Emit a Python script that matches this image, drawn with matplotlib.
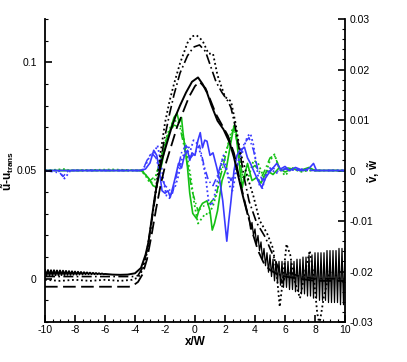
import numpy as np
import matplotlib
matplotlib.use("Agg")
import matplotlib.pyplot as plt
from matplotlib.ticker import MultipleLocator, FormatStrFormatter

plt.rcParams['font.family'] = ['Liberation Sans', 'DejaVu Sans']
plt.rcParams['mathtext.fontset'] = 'custom'
plt.rcParams['mathtext.rm'] = 'Liberation Sans'
plt.rcParams['mathtext.bf'] = 'Liberation Sans:bold'
plt.rcParams['axes.unicode_minus'] = False

# ---- black curves (left axis, u - u_trans) ----
# solid: oscillating upstream part, smooth hump, oscillating wake
solid_osc_left = [0.0040, 0.0014, 0.0040, 0.0015, 0.0039, 0.0015, 0.0039, 0.0016,
                  0.0038, 0.0016, 0.0038, 0.0017, 0.0037, 0.0017, 0.0036, 0.0018,
                  0.0035, 0.0018, 0.0034, 0.0019, 0.0033, 0.0019, 0.0032, 0.0020,
                  0.0031, 0.0020, 0.0030, 0.0021, 0.0029, 0.0021, 0.0028, 0.0021,
                  0.0027, 0.0021, 0.0026, 0.0021, 0.0025, 0.0021, 0.0024, 0.0021,
                  0.0022]
solid_x = [-5.5, -5.0, -4.5, -4.0, -3.6, -3.3, -3.1, -2.9, -2.7, -2.5, -2.2, -1.9,
           -1.6, -1.3, -1.0, -0.6, -0.2, 0.2, 0.5, 0.8, 1.1, 1.5, 1.9, 2.3, 2.6,
           2.9, 3.2, 3.5]
solid_u = [0.0019, 0.0018, 0.0019, 0.0025, 0.005, 0.011, 0.017, 0.027, 0.037, 0.045,
           0.055, 0.062, 0.069, 0.075, 0.080, 0.086, 0.091, 0.093, 0.090, 0.086,
           0.080, 0.073, 0.069, 0.063, 0.056, 0.047, 0.038, 0.030]
solid_osc_right = [0.029, 0.023, 0.026, 0.020, 0.023, 0.016, 0.020, 0.013, 0.017,
                   0.009, 0.014, 0.006, 0.012, 0.003, 0.011, 0.001, 0.009, -0.001,
                   0.008, -0.002, 0.008, -0.003, 0.008, -0.004, 0.008, -0.004, 0.008,
                   -0.005, 0.008, -0.005, 0.008, -0.006, 0.009, -0.006, 0.009, -0.007,
                   0.010, -0.007, 0.010, -0.008, 0.011, -0.008, 0.011, -0.009, 0.012,
                   -0.009, 0.012, -0.010, 0.012, -0.010, 0.012, -0.010, 0.013, -0.011,
                   0.013, -0.011, 0.013, -0.011, 0.013, -0.011, 0.014, -0.012, 0.014,
                   -0.012, 0.014]

dashed_x = [-10, -4.4, -4.1, -3.8, -3.5, -3.2, -2.9, -2.6, -2.3, -2.0, -1.6, -1.2,
            -0.8, -0.4, 0.0, 0.3, 0.7, 1.0, 1.4, 1.8, 2.2, 2.6, 3.0, 3.4, 3.8, 4.2,
            4.6, 5.0, 5.5, 6.0, 7.0, 8.0, 10.0]
dashed_u = [-0.0037, -0.0037, -0.003, -0.0015, 0.002, 0.009, 0.020, 0.032, 0.043,
            0.052, 0.061, 0.070, 0.077, 0.084, 0.089, 0.091, 0.088, 0.083, 0.076,
            0.071, 0.066, 0.058, 0.045, 0.033, 0.022, 0.013, 0.007, 0.004, 0.002,
            0.001, 0.000, -0.001, -0.001]

dotted_x = [-10, -9, -8, -7, -6, -5, -4.2, -3.8, -3.5, -3.2, -2.9, -2.6, -2.3, -2.0,
            -1.7, -1.4, -1.0, -0.5, -0.2, 0.1, 0.5, 0.9, 1.2, 1.5, 2.0, 2.4, 2.7,
            3.0, 3.5, 3.9, 4.3, 4.8, 5.2, 5.45, 5.65, 5.85, 6.1, 6.35, 6.6, 7.0, 7.3,
            7.65, 7.9, 8.15, 8.3, 8.6, 9.0, 9.5, 10.0]
dotted_u = [-0.0005, -0.001, -0.0005, -0.001, -0.0005, -0.001, -0.0005, 0.0005,
            0.004, 0.012, 0.026, 0.042, 0.058, 0.072, 0.082, 0.090, 0.0995, 0.109,
            0.112, 0.1125, 0.110, 0.104, 0.104, 0.094, 0.084, 0.082, 0.072, 0.059,
            0.047, 0.038, 0.027, 0.021, 0.014, 0.002, -0.013, -0.001, 0.016, 0.011,
            0.0, -0.009, 0.002, 0.013, 0.002, -0.016, -0.021, -0.008, 0.004, 0.001,
            -0.002]

dashdot_x = [-10, -4.0, -3.8, -3.5, -3.2, -2.9, -2.6, -2.3, -2.0, -1.7, -1.4, -1.0,
             -0.5, -0.1, 0.3, 0.7, 1.0, 1.4, 1.8, 2.2, 2.4, 2.6, 3.0, 3.3, 3.6, 4.1,
             4.7, 5.0, 5.5, 5.8, 6.2, 7.0, 8.0, 10.0]
dashdot_u = [0.001, 0.001, 0.0015, 0.005, 0.013, 0.026, 0.040, 0.054, 0.066, 0.076,
             0.085, 0.095, 0.103, 0.107, 0.108, 0.105, 0.099, 0.091, 0.086, 0.082,
             0.079, 0.073, 0.058, 0.046, 0.036, 0.026, 0.019, 0.014, 0.006, -0.002,
             0.003, 0.001, 0.0, 0.0]

# ---- coloured curves (right axis, v and w) ----
gs_x = [-10, -3.6, -3.4, -3.1, -2.8, -2.6, -2.4, -2.2, -1.9, -1.6, -1.4, -1.2, -1.05,
        -0.9, -0.8, -0.65, -0.5, -0.35, -0.15, 0.1, 0.3, 0.5, 0.8, 1.0, 1.15, 1.3,
        1.5, 1.8, 2.1, 2.3, 2.45, 2.6, 2.75, 2.85, 3.0, 3.15, 3.3, 3.5, 3.8, 4.1,
        4.4, 4.8, 5.2, 5.6, 6.0, 6.5, 7.0, 7.6, 8.0, 10]
gs_v = [0, 0, -0.0005, -0.0015, -0.003, -0.0033, -0.001, 0.0015, 0.006, 0.0085,
        0.0105, 0.0113, 0.0095, 0.0105, 0.0075, 0.004, 0.0006, -0.0045, -0.0085,
        -0.0095, -0.0075, -0.0065, -0.006, -0.008, -0.0118, -0.0105, -0.008, -0.002,
        0.0006, 0.004, 0.0065, 0.0088, 0.0075, 0.004, 0.0, -0.0034, -0.001, 0.0014,
        -0.002, -0.0014, -0.0025, 0.0, -0.0008, 0.0005, -0.0003, 0.0004, 0.0, 0.0006,
        0.0, 0]

gd_x = [-10, -8.6, -8.4, -5.5, -3.6, -3.3, -3.0, -2.7, -2.4, -2.1, -1.8, -1.5, -1.2,
        -0.9, -0.6, -0.3, -0.05, 0.2, 0.45, 0.7, 0.9, 1.2, 1.5, 1.8, 2.1, 2.4, 2.6,
        2.8, 3.0, 3.2, 3.5, 3.9, 4.2, 4.6, 5.0, 5.3, 5.6, 6.0, 6.5, 7.0, 7.5, 10]
gd_v = [0, 0.0003, 0, 0.0002, 0, -0.001, -0.0025, -0.002, 0.001, 0.0045, 0.0075,
        0.0095, 0.010, 0.0085, 0.004, -0.001, -0.0065, -0.0105, -0.0095, -0.0085,
        -0.0088, -0.007, -0.004, 0.0015, 0.004, 0.0075, 0.0088, 0.006, 0.0015,
        -0.0015, -0.002, 0.002, 0.0015, -0.0015, 0.002, 0.0032, 0.0005, -0.001,
        0.0005, -0.0003, 0.0, 0]

gdd_x = [-10, -3.5, -3.0, -2.6, -2.2, -1.8, -1.4, -1.0, -0.6, -0.2, 0.2, 0.6, 1.0,
         1.4, 1.8, 2.2, 2.6, 2.9, 3.2, 3.6, 4.0, 4.5, 5.0, 5.3, 5.7, 6.2, 7.0, 10]
gdd_v = [0, 0, -0.002, -0.001, 0.003, 0.007, 0.009, 0.0085, 0.003, -0.004, -0.008,
         -0.007, -0.0065, -0.005, 0.0, 0.005, 0.0085, 0.004, -0.002, 0.0, 0.001,
         -0.001, 0.0025, 0.003, 0.0, 0.0005, 0, 0]

bs_x = [-10, -3.6, -3.3, -3.0, -2.75, -2.55, -2.4, -2.2, -2.0, -1.8, -1.65, -1.45,
        -1.3, -1.1, -0.9, -0.7, -0.5, -0.35, -0.2, 0.0, 0.2, 0.35, 0.5, 0.65, 0.8,
        1.0, 1.2, 1.45, 1.65, 1.85, 2.0, 2.12, 2.25, 2.4, 2.6, 2.8, 3.0, 3.3, 3.5,
        3.7, 3.9, 4.2, 4.45, 4.7, 4.9, 5.2, 5.45, 5.7, 6.0, 6.3, 6.7, 7.2, 7.6, 7.9,
        8.1, 8.5, 10]
bs_v = [0, 0, 0.0003, 0.0015, 0.004, 0.003, 0.0005, -0.004, -0.0045, -0.004, -0.0053,
        -0.003, -0.0012, 0.0014, 0.0005, 0.003, 0.004, 0.002, 0.0035, 0.003, 0.006,
        0.0075, 0.0045, 0.006, 0.0058, 0.003, 0.0035, 0.0006, -0.002, -0.006, -0.0105,
        -0.014, -0.010, -0.006, 0.0, 0.003, 0.004, 0.0046, 0.0025, 0.0014, 0.0, -0.002,
        -0.0034, -0.0015, -0.0006, 0.0005, 0.0014, 0.0003, 0.0008, 0.0, 0.0006, 0.0,
        0.0004, 0.0014, 0.0, 0.0, 0]

bd_x = [-10, -9.1, -8.9, -8.7, -8.5, -8.3, -3.6, -3.3, -3.0, -2.7, -2.5, -2.3, -2.1,
        -1.9, -1.7, -1.5, -1.3, -1.1, -0.9, -0.7, -0.5, -0.3, -0.1, 0.1, 0.3, 0.5,
        0.7, 0.9, 1.1, 1.3, 1.5, 1.7, 1.9, 2.1, 2.3, 2.5, 2.7, 2.9, 3.1, 3.3, 3.5,
        3.7, 3.9, 4.1, 4.3, 4.5, 4.7, 5.0, 5.4, 5.8, 6.3, 7.0, 8.0, 10]
bd_v = [0, 0, -0.0008, -0.0016, -0.0008, 0, 0, 0.001, 0.003, 0.0036, 0.005, 0.002,
        -0.002, -0.005, -0.0055, -0.004, -0.003, -0.001, 0.002, 0.0036, 0.005, 0.004,
        0.006, 0.0055, 0.004, 0.002, -0.001, -0.006, -0.007, -0.005, -0.002, 0.001,
        0.003, 0.0005, -0.003, -0.004, -0.001, 0.002, 0.003, 0.005, 0.0068, 0.0073,
        0.005, 0.001, -0.003, -0.0035, -0.001, 0.0005, -0.0006, 0.0004, 0.0, 0.0003,
        0, 0]

bdd_x = [-10, -9.0, -8.8, -8.6, -8.4, -3.5, -3.2, -2.9, -2.6, -2.3, -2.0, -1.8, -1.5,
         -1.2, -0.9, -0.6, -0.3, 0.0, 0.3, 0.6, 0.9, 1.2, 1.5, 1.8, 2.1, 2.4, 2.7,
         3.0, 3.3, 3.6, 3.9, 4.2, 4.5, 4.8, 5.2, 5.6, 6.0, 7.0, 10]
bdd_v = [0, -0.0005, -0.0012, -0.0005, 0, 0, 0.002, 0.0035, 0.0025, -0.001, -0.003,
         -0.0035, -0.0045, -0.0005, 0.0035, 0.005, 0.0025, 0.0035, 0.005, 0.001,
         -0.002, -0.003, -0.001, 0.002, 0.0, -0.002, 0.0, 0.003, 0.0055, 0.0065,
         0.004, 0.0, -0.002, -0.0005, 0.0005, -0.0003, 0.0003, 0, 0]

green = '#14c014'
blue = '#3a3aff'

fig = plt.figure(figsize=(4.07, 3.62), dpi=100)
ax = fig.add_axes([45 / 407, 40 / 362, 300 / 407, 303 / 362])
ax2 = ax.twinx()

# coloured lines on the right axis
ax2.plot(gs_x, gs_v, color=green, lw=1.2)
ax2.plot(gd_x, gd_v, color=green, lw=1.3, ls=(0, (1, 1.5)))
ax2.plot(gdd_x, gdd_v, color=green, lw=1.1, ls=(0, (5, 2, 1, 2)))
ax2.plot(bs_x, bs_v, color=blue, lw=1.2)
ax2.plot(bd_x, bd_v, color=blue, lw=1.3, ls=(0, (1, 1.5)))
ax2.plot(bdd_x, bdd_v, color=blue, lw=1.1, ls=(0, (5, 2, 1, 2)))

# black lines on the left axis
xl = np.linspace(-10, -6, len(solid_osc_left))
xr = np.linspace(3.6, 10, len(solid_osc_right))
ax.plot(list(xl) + solid_x, solid_osc_left + solid_u, color='black', lw=1.4)
ax.plot([solid_x[-1]] + list(xr), [solid_u[-1]] + solid_osc_right,
        color='black', lw=0.9)
ax.plot(dashed_x, dashed_u, color='black', lw=1.3, ls=(0, (7, 3)))
ax.plot(dotted_x, dotted_u, color='black', lw=1.3, ls=(0, (1, 1.5)))
ax.plot(dashdot_x, dashdot_u, color='black', lw=1.2, ls=(0, (6, 2, 1, 2)))

ax.set_zorder(ax2.get_zorder() + 1)
ax.patch.set_visible(False)

ax.set_xlim(-10, 10)
ax.set_ylim(-0.02, 0.12)
ax2.set_ylim(-0.03, 0.03)

ax.xaxis.set_major_locator(MultipleLocator(2))
ax.xaxis.set_minor_locator(MultipleLocator(0.5))
ax.yaxis.set_major_locator(MultipleLocator(0.05))
ax.yaxis.set_minor_locator(MultipleLocator(0.01))
ax2.yaxis.set_major_locator(MultipleLocator(0.01))
ax2.yaxis.set_minor_locator(MultipleLocator(0.002))
ax.xaxis.set_major_formatter(FormatStrFormatter('%g'))
ax.yaxis.set_major_formatter(FormatStrFormatter('%g'))
ax2.yaxis.set_major_formatter(FormatStrFormatter('%g'))

for a in (ax, ax2):
    a.spines['top'].set_visible(False)
    for s in a.spines.values():
        s.set_linewidth(1.3)
ax.spines['right'].set_visible(False)
ax2.spines['left'].set_visible(False)
ax2.spines['bottom'].set_visible(False)

ax.tick_params(which='major', direction='in', length=5, width=1.2, labelsize=7.5,
               top=False, right=False)
ax.tick_params(which='minor', direction='in', length=2.5, width=0.8,
               top=False, right=False)
ax.tick_params(axis='x', pad=2)
ax.tick_params(axis='y', pad=6)
ax2.tick_params(which='major', direction='in', length=5, width=1.2, labelsize=7.5,
                pad=3)
ax2.tick_params(which='minor', direction='in', length=2.5, width=0.8)

ax.set_xlabel('x/W', fontsize=8.5, fontweight='bold', labelpad=1)
ax.set_ylabel(r'$\mathbf{\tilde{u}}$-$\mathbf{u_{trans}}$', fontsize=8.5,
              fontweight='bold')
ax.yaxis.set_label_coords(-0.097, 0.5)
ax2.set_ylabel(r'$\mathbf{\tilde{v}}$, $\mathbf{\tilde{w}}$', fontsize=8.5,
               fontweight='bold', rotation=90)
ax2.yaxis.set_label_coords(1.067, 0.5)

fig.savefig('out.png', dpi=100)
